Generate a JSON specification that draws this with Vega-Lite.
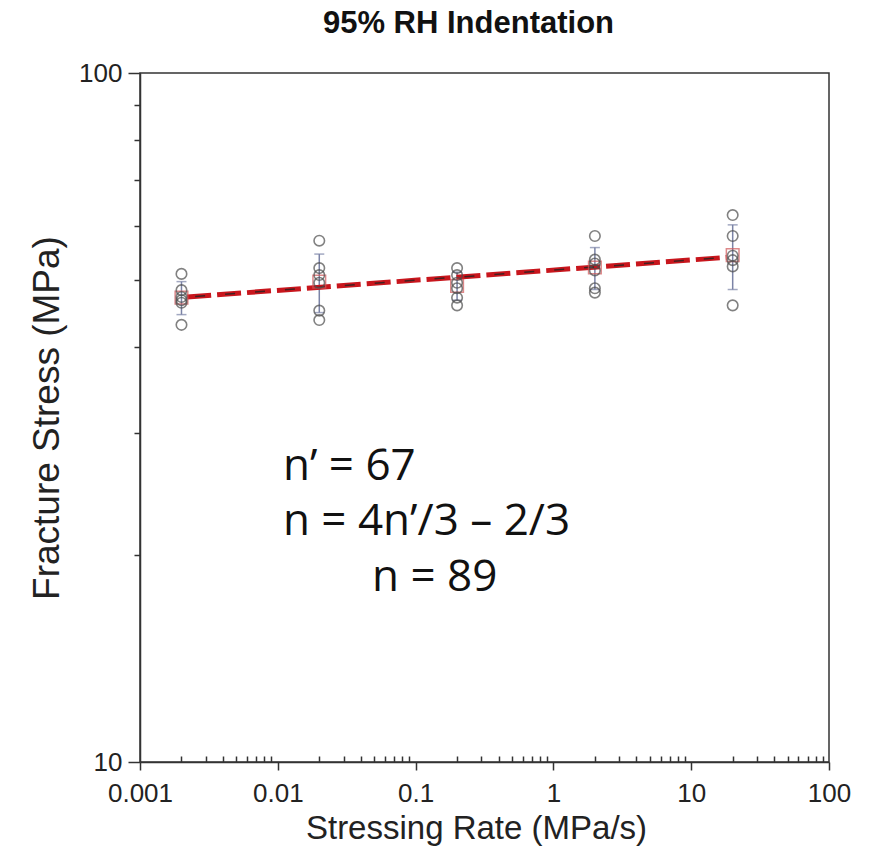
{
  "$schema": "https://vega.github.io/schema/vega-lite/v6.json",
  "autosize": "none",
  "width": 689,
  "height": 689,
  "padding": {"left": 140, "top": 73, "right": 50, "bottom": 92},
  "background": "white",
  "title": {"text": "95% RH Indentation", "font": "Liberation Sans", "fontSize": 31, "fontWeight": "bold", "color": "#111", "offset": 20, "dx": -16},
  "config": {
    "view": {"stroke": "#333", "strokeWidth": 1.5},
    "axis": {"grid": false, "domainColor": "#333", "domainWidth": 1.5, "tickColor": "#333", "tickWidth": 1.5, "labelFont": "Liberation Sans", "labelFontSize": 26, "labelColor": "#222", "titleFont": "Liberation Sans", "titleFontWeight": "normal", "titleColor": "#222", "labelOverlap": false, "labelFlush": false}
  },
  "datasets": {
    "pts": [
      {"rate": 0.002, "stress": 51.1}, {"rate": 0.002, "stress": 48.4}, {"rate": 0.002, "stress": 47.3},
      {"rate": 0.002, "stress": 46.8}, {"rate": 0.002, "stress": 46.4}, {"rate": 0.002, "stress": 43.1},
      {"rate": 0.02, "stress": 57.1}, {"rate": 0.02, "stress": 52.1}, {"rate": 0.02, "stress": 50.9},
      {"rate": 0.02, "stress": 49.6}, {"rate": 0.02, "stress": 45.2}, {"rate": 0.02, "stress": 43.8},
      {"rate": 0.2, "stress": 52.1}, {"rate": 0.2, "stress": 50.9}, {"rate": 0.2, "stress": 49.6},
      {"rate": 0.2, "stress": 48.7}, {"rate": 0.2, "stress": 47.2}, {"rate": 0.2, "stress": 46.0},
      {"rate": 2, "stress": 58.0}, {"rate": 2, "stress": 53.6}, {"rate": 2, "stress": 52.9},
      {"rate": 2, "stress": 51.7}, {"rate": 2, "stress": 48.7}, {"rate": 2, "stress": 48.0},
      {"rate": 20, "stress": 62.2}, {"rate": 20, "stress": 58.0}, {"rate": 20, "stress": 54.3},
      {"rate": 20, "stress": 53.5}, {"rate": 20, "stress": 52.4}, {"rate": 20, "stress": 46.0}
    ],
    "stats": [
      {"rate": 0.002, "mean": 47.2, "lo": 44.6, "hi": 49.8},
      {"rate": 0.02, "mean": 49.8, "lo": 44.9, "hi": 54.6},
      {"rate": 0.2, "mean": 49.1, "lo": 46.8, "hi": 51.4},
      {"rate": 2, "mean": 52.2, "lo": 48.5, "hi": 55.8},
      {"rate": 20, "mean": 54.4, "lo": 48.5, "hi": 60.2}
    ],
    "fit": [
      {"rate": 0.0022, "stress": 47.3},
      {"rate": 18, "stress": 54.0}
    ],
    "notes": [
      {"rate": 0.0109, "stress": 26.8, "label": "n’ = 67"},
      {"rate": 0.0109, "stress": 22.3, "label": "n = 4n’/3 – 2/3"},
      {"rate": 0.0483, "stress": 18.5, "label": "n = 89"}
    ]
  },
  "layer": [
    {
      "data": {"name": "stats"},
      "mark": {"type": "rule", "color": "#7b83a6", "strokeWidth": 1.5},
      "encoding": {
        "x": {"field": "rate", "type": "quantitative", "scale": {"type": "log", "domain": [0.001, 100]},
          "title": "Stressing Rate (MPa/s)",
          "axis": {
            "values": [0.001,0.002,0.003,0.004,0.005,0.006,0.007,0.008,0.009,0.01,0.02,0.03,0.04,0.05,0.06,0.07,0.08,0.09,0.1,0.2,0.3,0.4,0.5,0.6,0.7,0.8,0.9,1,2,3,4,5,6,7,8,9,10,20,30,40,50,60,70,80,90,100],
            "labelExpr": "abs(log(datum.value)/LN10 - round(log(datum.value)/LN10)) < 0.000001 ? format(datum.value, '~g') : ''",
            "tickSize": {"condition": {"test": "abs(log(datum.value)/LN10 - round(log(datum.value)/LN10)) < 0.000001", "value": 8}, "value": -6},
            "labelPadding": 10,
            "titleFontSize": 33,
            "titlePadding": 6,
            "titleX": 336
          }},
        "y": {"field": "lo", "type": "quantitative", "scale": {"type": "log", "domain": [10, 100]},
          "title": "Fracture Stress (MPa)",
          "axis": {
            "values": [10,20,30,40,50,60,70,80,90,100],
            "labelExpr": "datum.value == 10 || datum.value == 100 ? format(datum.value, '~g') : ''",
            "tickSize": {"condition": {"test": "datum.value == 10 || datum.value == 100", "value": 12}, "value": 6},
            "labelPadding": 6,
            "titleFontSize": 37,
            "titlePadding": 12
          }},
        "y2": {"field": "hi"}
      }
    },
    {
      "data": {"name": "stats"},
      "mark": {"type": "tick", "orient": "horizontal", "color": "#7b83a6", "thickness": 1.5, "size": 10},
      "encoding": {
        "x": {"field": "rate", "type": "quantitative"},
        "y": {"field": "hi", "type": "quantitative"}
      }
    },
    {
      "data": {"name": "stats"},
      "mark": {"type": "tick", "orient": "horizontal", "color": "#7b83a6", "thickness": 1.5, "size": 10},
      "encoding": {
        "x": {"field": "rate", "type": "quantitative"},
        "y": {"field": "lo", "type": "quantitative"}
      }
    },
    {
      "data": {"name": "fit"},
      "mark": {"type": "line", "color": "#c8161d", "strokeWidth": 5, "strokeDash": [24, 6]},
      "encoding": {
        "x": {"field": "rate", "type": "quantitative"},
        "y": {"field": "stress", "type": "quantitative"}
      }
    },
    {
      "data": {"name": "fit"},
      "mark": {"type": "line", "color": "#222", "strokeWidth": 1.5, "strokeDash": [10, 20], "strokeDashOffset": -8, "opacity": 0.8},
      "encoding": {
        "x": {"field": "rate", "type": "quantitative"},
        "y": {"field": "stress", "type": "quantitative"}
      }
    },
    {
      "data": {"name": "stats"},
      "mark": {"type": "square", "filled": false, "color": "#d0585a", "strokeWidth": 1.5, "size": 160},
      "encoding": {
        "x": {"field": "rate", "type": "quantitative"},
        "y": {"field": "mean", "type": "quantitative"}
      }
    },
    {
      "data": {"name": "pts"},
      "mark": {"type": "point", "shape": "circle", "filled": false, "color": "#4d4d4d", "strokeWidth": 1.6, "size": 110},
      "encoding": {
        "x": {"field": "rate", "type": "quantitative"},
        "y": {"field": "stress", "type": "quantitative"}
      }
    },
    {
      "data": {"name": "notes"},
      "mark": {"type": "text", "align": "left", "baseline": "middle", "font": "Open Sans", "fontSize": 44, "color": "#111"},
      "encoding": {
        "x": {"field": "rate", "type": "quantitative"},
        "y": {"field": "stress", "type": "quantitative"},
        "text": {"field": "label"}
      }
    }
  ]
}
